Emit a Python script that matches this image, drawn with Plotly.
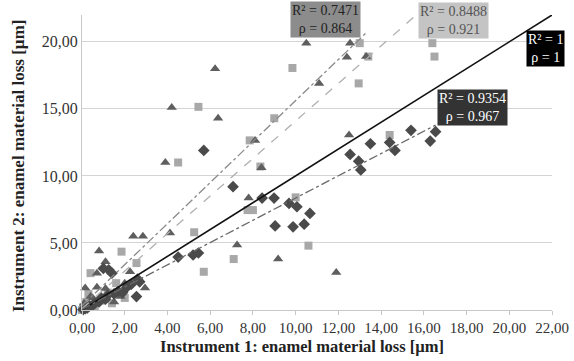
import plotly.graph_objects as go

# ---- data ----
dia_x = [0.05, 0.15, 0.25, 0.35, 0.5, 0.6, 0.8, 0.9, 1.1, 1.2, 1.5, 1.7, 1.9, 2.1, 2.3, 2.6, 2.7, 2.55, 1.25, 1.4, 1.0,
         4.5, 5.2, 5.45, 5.7, 7.07, 8.43, 8.99, 9.69, 10.06, 10.67, 9.04, 9.88, 10.4,
         12.55, 12.95, 13.05, 13.5, 14.4, 14.65, 15.4, 16.3, 16.55]
dia_y = [0.03, 0.1, 0.15, 0.3, 0.35, 0.5, 0.6, 0.9, 0.8, 1.1, 1.2, 1.4, 1.3, 1.7, 1.9, 2.3, 2.1, 1.0, 3.0, 2.75, 3.1,
         3.95, 4.1, 4.25, 11.9, 9.2, 8.35, 8.35, 7.95, 7.7, 7.2, 6.27, 6.2, 6.4,
         11.6, 11.1, 10.45, 12.4, 12.5, 11.9, 13.4, 12.6, 13.3]

tri_x = [0.05, 0.1, 0.15, 0.3, 0.5, 0.7, 0.7, 0.8, 1.1, 1.1, 1.5, 1.8, 2.25, 2.4, 2.85, 2.95, 2.0, 0.4,
         4.12, 3.9, 4.2, 6.23, 6.37, 7.26, 7.8, 8.1, 8.4, 9.18, 10.5, 11.1, 11.9, 12.4, 12.5, 12.55, 13.3]
tri_y = [0.1, 0.5, 1.65, 0.2, 0.9, 1.7, 2.75, 4.4, 1.6, 3.6, 0.6, 1.0, 2.85, 5.5, 5.5, 1.64, 2.0, 1.0,
         5.75, 11.0, 15.1, 18.0, 14.3, 4.85, 8.35, 12.65, 10.6, 3.8, 19.9, 16.9, 2.8, 18.85, 13.05, 19.9, 18.9]

sq_x = [0.0, 0.05, 0.1, 0.2, 0.3, 0.4, 0.6, 0.9, 1.2, 1.4, 1.85, 2.0, 2.55, 1.6,
        4.5, 5.45, 5.25, 5.7, 7.1, 7.75, 8.0, 7.85, 8.35, 9.0, 9.85, 10.0, 10.6,
        13.0, 12.95, 13.4, 14.4, 16.4, 16.5]
sq_y = [0.0, 0.2, 0.05, 0.6, 1.2, 2.75, 0.3, 0.7, 1.3, 0.5, 4.35, 0.9, 3.5, 2.0,
        11.0, 15.15, 5.8, 2.85, 3.8, 7.45, 7.45, 12.65, 10.7, 14.3, 18.05, 8.4, 4.8,
        19.9, 16.9, 18.9, 13.05, 19.9, 18.9]

# trend lines: slope, intercept, x start, x end
trend_names = ["identity", "triangles", "squares", "diamonds"]
trend_slope = [1.0, 1.53, 1.40, 0.83]
trend_inter = [0.0, 0.32, 0.10, 0.05]
trend_x0 = [0.0, 0.0, 0.0, 0.0]
trend_x1 = [22.0, 13.3, 16.5, 16.55]

labels = ["R² = 0.7471<br>ρ = 0.864", "R² = 0.8488<br>ρ = 0.921", "R² = 1<br>ρ = 1", "R² = 0.9354<br>ρ = 0.967"]
label_x = [11.38, 17.37, 21.68, 18.26]
label_y = [21.64, 21.57, 19.48, 15.07]

x_title = "Instrument 1: enamel material loss [µm]"
y_title = "Instrument 2: enamel material loss [µm]"

x_ticks = [0, 2, 4, 6, 8, 10, 12, 14, 16, 18, 20, 22]
y_ticks = [0, 5, 10, 15, 20]

FONT = "Liberation Serif"

fig = go.Figure()

fig.add_trace(go.Scatter(x=sq_x, y=sq_y, mode="markers", cliponaxis=False,
                         marker=dict(symbol="square", size=8, color="#a8a8a8"), showlegend=False))
fig.add_trace(go.Scatter(x=tri_x, y=tri_y, mode="markers", cliponaxis=False,
                         marker=dict(symbol="triangle-up", size=9, color="#5e5e5e"), showlegend=False))
fig.add_trace(go.Scatter(x=dia_x, y=dia_y, mode="markers", cliponaxis=False,
                         marker=dict(symbol="diamond", size=9, color="#4a4a4a"), showlegend=False))

line_styles = [dict(color="#111111", width=1.6, dash="solid"),
               dict(color="#8a8a8a", width=1.3, dash="dashdot"),
               dict(color="#b0b0b0", width=1.3, dash="dash"),
               dict(color="#6a6a6a", width=1.3, dash="dashdot")]
for i in range(len(trend_names)):
    xs = [trend_x0[i], trend_x1[i]]
    ys = [trend_slope[i] * v + trend_inter[i] for v in xs]
    fig.add_trace(go.Scatter(x=xs, y=ys, mode="lines", line=line_styles[i], showlegend=False))

box_styles = [dict(bg="#8c8c8c", fc="#222222"),
              dict(bg="#c4c4c4", fc="#555555"),
              dict(bg="#000000", fc="#ffffff"),
              dict(bg="#333333", fc="#ffffff")]
for i in range(len(labels)):
    fig.add_annotation(x=label_x[i], y=label_y[i], text=labels[i], showarrow=False,
                       bgcolor=box_styles[i]["bg"], borderpad=1, align="center",
                       font=dict(family=FONT, size=14, color=box_styles[i]["fc"]))

# axis titles as paper annotations (positioned like the reference)
fig.add_annotation(xref="paper", yref="paper", x=0.468, y=-0.1254, text="<b>" + x_title + "</b>",
                   showarrow=False, xanchor="center", yanchor="middle",
                   font=dict(family=FONT, size=16.5, color="#222222"))
fig.add_annotation(xref="paper", yref="paper", x=-0.136, y=0.488, text="<b>" + y_title + "</b>",
                   showarrow=False, xanchor="center", yanchor="middle", textangle=-90,
                   font=dict(family=FONT, size=17, color="#222222"))

fig.update_layout(
    width=574, height=361,
    margin=dict(l=82, r=22, t=15, b=51),
    paper_bgcolor="white", plot_bgcolor="white",
    separators=",.",
    font=dict(family=FONT, size=15, color="#333333"),
    xaxis=dict(range=[0, 22], tickvals=x_ticks, tickformat=".2f", showgrid=False,
               automargin=False, tickfont=dict(size=15),
               showline=True, linecolor="#c8c8c8", linewidth=1.2, ticks="outside",
               ticklen=4, tickcolor="#c8c8c8", zeroline=False),
    yaxis=dict(range=[0, 22], tickvals=y_ticks, tickformat=".2f", showgrid=True,
               automargin=False, tickfont=dict(size=16),
               gridcolor="#d4d4d4", gridwidth=1.2, showline=True, linecolor="#c8c8c8",
               linewidth=1.2, zeroline=False, ticks=""),
)

fig.write_html("out.html", config={"displayModeBar": False},
               post_script="document.body.style.margin='0px';")
